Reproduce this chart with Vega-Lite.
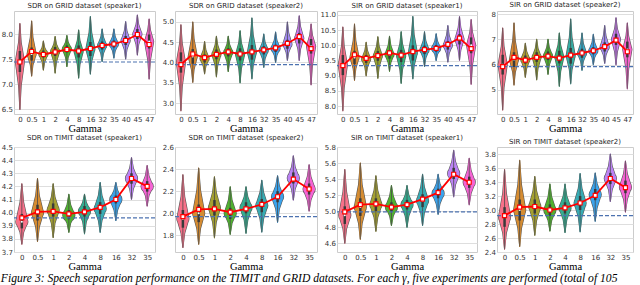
{
"$schema": "https://vega.github.io/schema/vega-lite/v6.json",
"background": "white",
"padding": 0,
"autosize": {"type": "pad"},
"title": {"text": "Figure 3: Speech separation performance on the TIMIT and GRID datasets. For each γ, five experiments are performed (total of 105", "orient": "bottom", "anchor": "start", "font": "Liberation Serif", "fontSize": 11.6, "fontStyle": "italic", "fontWeight": "normal", "color": "#000000", "offset": 1},
"columns": 4,
"spacing": {"row": 33, "column": 20},
"bounds": "flush",
"align": "each",
"resolve": {"scale": {"x": "independent", "y": "independent", "color": "independent", "size": "independent"}},
"datasets": {"d": [
{"p":1,"g":0,"min":6.49,"s1":6.97,"pk":7.45,"s2":7.83,"max":8.21,"q1":7.24,"q3":7.66,"mean":7.44},
{"p":1,"g":0.5,"min":7.16,"s1":7.38,"pk":7.6,"s2":7.93,"max":8.26,"q1":7.47,"q3":7.73,"mean":7.65},
{"p":1,"g":1,"min":7.28,"s1":7.44,"pk":7.6,"s2":7.73,"max":7.86,"q1":7.53,"q3":7.67,"mean":7.59},
{"p":1,"g":2,"min":7.22,"s1":7.44,"pk":7.65,"s2":7.8,"max":7.95,"q1":7.56,"q3":7.74,"mean":7.64},
{"p":1,"g":4,"min":7.35,"s1":7.53,"pk":7.7,"s2":7.84,"max":7.97,"q1":7.63,"q3":7.77,"mean":7.69},
{"p":1,"g":8,"min":7.12,"s1":7.39,"pk":7.65,"s2":7.87,"max":8.08,"q1":7.53,"q3":7.77,"mean":7.66},
{"p":1,"g":16,"min":7.2,"s1":7.45,"pk":7.7,"s2":8.03,"max":8.35,"q1":7.56,"q3":7.84,"mean":7.71},
{"p":1,"g":32,"min":7.45,"s1":7.61,"pk":7.77,"s2":7.94,"max":8.1,"q1":7.69,"q3":7.85,"mean":7.77},
{"p":1,"g":35,"min":7.52,"s1":7.66,"pk":7.8,"s2":7.95,"max":8.1,"q1":7.73,"q3":7.87,"mean":7.8},
{"p":1,"g":40,"min":7.5,"s1":7.69,"pk":7.87,"s2":8.06,"max":8.25,"q1":7.78,"q3":7.96,"mean":7.87},
{"p":1,"g":45,"min":7.58,"s1":7.79,"pk":8.0,"s2":8.19,"max":8.38,"q1":7.9,"q3":8.1,"mean":7.99},
{"p":1,"g":47,"min":7.1,"s1":7.48,"pk":7.85,"s2":8.08,"max":8.3,"q1":7.71,"q3":7.99,"mean":7.79},
{"p":2,"g":0,"min":2.81,"s1":3.41,"pk":4.0,"s2":4.47,"max":4.93,"q1":3.75,"q3":4.25,"mean":3.95},
{"p":2,"g":0.5,"min":3.51,"s1":3.83,"pk":4.15,"s2":4.58,"max":5.0,"q1":3.97,"q3":4.33,"mean":4.21},
{"p":2,"g":1,"min":3.72,"s1":3.91,"pk":4.1,"s2":4.31,"max":4.52,"q1":4.0,"q3":4.2,"mean":4.12},
{"p":2,"g":2,"min":3.65,"s1":3.93,"pk":4.2,"s2":4.43,"max":4.65,"q1":4.08,"q3":4.32,"mean":4.2},
{"p":2,"g":4,"min":3.78,"s1":4.02,"pk":4.25,"s2":4.45,"max":4.65,"q1":4.15,"q3":4.35,"mean":4.26},
{"p":2,"g":8,"min":3.5,"s1":3.85,"pk":4.2,"s2":4.49,"max":4.78,"q1":4.05,"q3":4.35,"mean":4.21},
{"p":2,"g":16,"min":3.6,"s1":3.93,"pk":4.25,"s2":4.68,"max":5.1,"q1":4.07,"q3":4.43,"mean":4.26},
{"p":2,"g":32,"min":3.88,"s1":4.09,"pk":4.3,"s2":4.5,"max":4.7,"q1":4.2,"q3":4.4,"mean":4.31},
{"p":2,"g":35,"min":4.0,"s1":4.18,"pk":4.35,"s2":4.55,"max":4.75,"q1":4.26,"q3":4.44,"mean":4.36},
{"p":2,"g":40,"min":4.05,"s1":4.25,"pk":4.45,"s2":4.73,"max":5.0,"q1":4.34,"q3":4.56,"mean":4.47},
{"p":2,"g":45,"min":4.05,"s1":4.33,"pk":4.6,"s2":4.88,"max":5.15,"q1":4.47,"q3":4.73,"mean":4.64},
{"p":2,"g":47,"min":3.45,"s1":3.93,"pk":4.4,"s2":4.68,"max":4.95,"q1":4.22,"q3":4.58,"mean":4.34},
{"p":3,"g":0,"min":7.85,"s1":8.6,"pk":9.35,"s2":9.98,"max":10.6,"q1":9.02,"q3":9.68,"mean":9.33},
{"p":3,"g":0.5,"min":8.85,"s1":9.23,"pk":9.6,"s2":10.15,"max":10.7,"q1":9.38,"q3":9.82,"mean":9.69},
{"p":3,"g":1,"min":9.0,"s1":9.28,"pk":9.55,"s2":9.83,"max":10.1,"q1":9.42,"q3":9.68,"mean":9.57},
{"p":3,"g":2,"min":8.92,"s1":9.29,"pk":9.65,"s2":9.97,"max":10.28,"q1":9.49,"q3":9.81,"mean":9.66},
{"p":3,"g":4,"min":9.15,"s1":9.43,"pk":9.7,"s2":10.0,"max":10.3,"q1":9.56,"q3":9.84,"mean":9.75},
{"p":3,"g":8,"min":8.75,"s1":9.2,"pk":9.65,"s2":10.05,"max":10.45,"q1":9.45,"q3":9.85,"mean":9.68},
{"p":3,"g":16,"min":8.9,"s1":9.33,"pk":9.75,"s2":10.35,"max":10.95,"q1":9.5,"q3":10.0,"mean":9.79},
{"p":3,"g":32,"min":9.3,"s1":9.58,"pk":9.85,"s2":10.15,"max":10.45,"q1":9.71,"q3":9.99,"mean":9.86},
{"p":3,"g":35,"min":9.5,"s1":9.7,"pk":9.9,"s2":10.14,"max":10.38,"q1":9.79,"q3":10.01,"mean":9.9},
{"p":3,"g":40,"min":9.45,"s1":9.73,"pk":10.0,"s2":10.33,"max":10.65,"q1":9.86,"q3":10.14,"mean":10.03},
{"p":3,"g":45,"min":9.5,"s1":9.85,"pk":10.2,"s2":10.58,"max":10.95,"q1":10.03,"q3":10.37,"mean":10.24},
{"p":3,"g":47,"min":8.72,"s1":9.36,"pk":10.0,"s2":10.43,"max":10.85,"q1":9.74,"q3":10.26,"mean":9.89},
{"p":4,"g":0,"min":4.21,"s1":5.1,"pk":6.0,"s2":6.73,"max":7.45,"q1":5.61,"q3":6.39,"mean":5.92},
{"p":4,"g":0.5,"min":5.2,"s1":5.7,"pk":6.2,"s2":6.93,"max":7.65,"q1":5.91,"q3":6.49,"mean":6.29},
{"p":4,"g":1,"min":5.5,"s1":5.85,"pk":6.2,"s2":6.53,"max":6.85,"q1":6.04,"q3":6.36,"mean":6.18},
{"p":4,"g":2,"min":5.4,"s1":5.85,"pk":6.3,"s2":6.65,"max":7.0,"q1":6.11,"q3":6.49,"mean":6.29},
{"p":4,"g":4,"min":5.62,"s1":5.99,"pk":6.35,"s2":6.68,"max":7.0,"q1":6.18,"q3":6.52,"mean":6.34},
{"p":4,"g":8,"min":5.15,"s1":5.73,"pk":6.3,"s2":6.78,"max":7.25,"q1":6.05,"q3":6.55,"mean":6.26},
{"p":4,"g":16,"min":5.25,"s1":5.8,"pk":6.35,"s2":7.08,"max":7.8,"q1":6.04,"q3":6.66,"mean":6.38},
{"p":4,"g":32,"min":5.78,"s1":6.12,"pk":6.45,"s2":6.85,"max":7.25,"q1":6.27,"q3":6.63,"mean":6.46},
{"p":4,"g":35,"min":6.0,"s1":6.28,"pk":6.55,"s2":6.88,"max":7.2,"q1":6.41,"q3":6.69,"mean":6.55},
{"p":4,"g":40,"min":6.05,"s1":6.38,"pk":6.7,"s2":7.13,"max":7.55,"q1":6.52,"q3":6.88,"mean":6.71},
{"p":4,"g":45,"min":6.0,"s1":6.5,"pk":7.0,"s2":7.43,"max":7.85,"q1":6.78,"q3":7.22,"mean":6.97},
{"p":4,"g":47,"min":5.05,"s1":5.83,"pk":6.6,"s2":7.13,"max":7.65,"q1":6.29,"q3":6.91,"mean":6.51},
{"p":5,"g":0,"min":3.76,"s1":3.85,"pk":3.93,"s2":4.08,"max":4.22,"q1":3.88,"q3":3.99,"mean":3.96},
{"p":5,"g":0.5,"min":3.78,"s1":3.89,"pk":4.0,"s2":4.13,"max":4.26,"q1":3.94,"q3":4.06,"mean":4.005},
{"p":5,"g":1,"min":3.81,"s1":3.92,"pk":4.02,"s2":4.12,"max":4.22,"q1":3.97,"q3":4.07,"mean":4.01},
{"p":5,"g":2,"min":3.85,"s1":3.92,"pk":3.98,"s2":4.06,"max":4.14,"q1":3.95,"q3":4.02,"mean":3.99},
{"p":5,"g":4,"min":3.84,"s1":3.93,"pk":4.01,"s2":4.08,"max":4.14,"q1":3.97,"q3":4.05,"mean":4.005},
{"p":5,"g":8,"min":3.85,"s1":3.94,"pk":4.03,"s2":4.13,"max":4.23,"q1":3.99,"q3":4.08,"mean":4.04},
{"p":5,"g":16,"min":3.94,"s1":4.02,"pk":4.1,"s2":4.17,"max":4.23,"q1":4.07,"q3":4.13,"mean":4.1},
{"p":5,"g":32,"min":4.1,"s1":4.18,"pk":4.26,"s2":4.34,"max":4.42,"q1":4.22,"q3":4.3,"mean":4.26},
{"p":5,"g":35,"min":4.05,"s1":4.13,"pk":4.2,"s2":4.28,"max":4.36,"q1":4.16,"q3":4.24,"mean":4.2},
{"p":6,"g":0,"min":1.69,"s1":1.82,"pk":1.95,"s2":2.15,"max":2.35,"q1":1.87,"q3":2.03,"mean":1.97},
{"p":6,"g":0.5,"min":1.72,"s1":1.86,"pk":2.0,"s2":2.21,"max":2.41,"q1":1.92,"q3":2.08,"mean":2.035},
{"p":6,"g":1,"min":1.78,"s1":1.92,"pk":2.05,"s2":2.19,"max":2.33,"q1":1.98,"q3":2.12,"mean":2.04},
{"p":6,"g":2,"min":1.81,"s1":1.91,"pk":2.0,"s2":2.12,"max":2.24,"q1":1.95,"q3":2.05,"mean":2.01},
{"p":6,"g":4,"min":1.82,"s1":1.94,"pk":2.05,"s2":2.15,"max":2.24,"q1":2.0,"q3":2.1,"mean":2.04},
{"p":6,"g":8,"min":1.83,"s1":1.95,"pk":2.07,"s2":2.19,"max":2.3,"q1":2.01,"q3":2.13,"mean":2.08},
{"p":6,"g":16,"min":1.92,"s1":2.04,"pk":2.15,"s2":2.25,"max":2.34,"q1":2.1,"q3":2.2,"mean":2.15},
{"p":6,"g":32,"min":2.12,"s1":2.22,"pk":2.32,"s2":2.42,"max":2.52,"q1":2.27,"q3":2.37,"mean":2.31},
{"p":6,"g":35,"min":2.02,"s1":2.12,"pk":2.22,"s2":2.33,"max":2.44,"q1":2.17,"q3":2.27,"mean":2.22},
{"p":7,"g":0,"min":4.6,"s1":4.78,"pk":4.95,"s2":5.24,"max":5.52,"q1":4.84,"q3":5.06,"mean":4.99},
{"p":7,"g":0.5,"min":4.65,"s1":4.85,"pk":5.05,"s2":5.33,"max":5.6,"q1":4.94,"q3":5.16,"mean":5.08},
{"p":7,"g":1,"min":4.75,"s1":4.92,"pk":5.08,"s2":5.26,"max":5.44,"q1":5.0,"q3":5.16,"mean":5.09},
{"p":7,"g":2,"min":4.82,"s1":4.94,"pk":5.05,"s2":5.19,"max":5.32,"q1":4.99,"q3":5.11,"mean":5.05},
{"p":7,"g":4,"min":4.8,"s1":4.94,"pk":5.08,"s2":5.2,"max":5.32,"q1":5.02,"q3":5.14,"mean":5.08},
{"p":7,"g":8,"min":4.82,"s1":4.98,"pk":5.13,"s2":5.3,"max":5.46,"q1":5.05,"q3":5.21,"mean":5.15},
{"p":7,"g":16,"min":4.96,"s1":5.09,"pk":5.22,"s2":5.34,"max":5.46,"q1":5.16,"q3":5.28,"mean":5.23},
{"p":7,"g":32,"min":5.18,"s1":5.33,"pk":5.47,"s2":5.62,"max":5.76,"q1":5.4,"q3":5.54,"mean":5.46},
{"p":7,"g":35,"min":5.08,"s1":5.22,"pk":5.36,"s2":5.51,"max":5.66,"q1":5.29,"q3":5.43,"mean":5.36},
{"p":8,"g":0,"min":2.44,"s1":2.67,"pk":2.9,"s2":3.24,"max":3.58,"q1":2.76,"q3":3.04,"mean":2.92},
{"p":8,"g":0.5,"min":2.48,"s1":2.74,"pk":3.0,"s2":3.36,"max":3.71,"q1":2.85,"q3":3.15,"mean":3.04},
{"p":8,"g":1,"min":2.64,"s1":2.85,"pk":3.05,"s2":3.27,"max":3.48,"q1":2.95,"q3":3.15,"mean":3.05},
{"p":8,"g":2,"min":2.7,"s1":2.85,"pk":3.0,"s2":3.19,"max":3.37,"q1":2.92,"q3":3.08,"mean":3.0},
{"p":8,"g":4,"min":2.68,"s1":2.86,"pk":3.03,"s2":3.2,"max":3.37,"q1":2.95,"q3":3.11,"mean":3.03},
{"p":8,"g":8,"min":2.69,"s1":2.9,"pk":3.1,"s2":3.31,"max":3.52,"q1":3.0,"q3":3.2,"mean":3.1},
{"p":8,"g":16,"min":2.84,"s1":3.03,"pk":3.22,"s2":3.38,"max":3.53,"q1":3.14,"q3":3.3,"mean":3.21},
{"p":8,"g":32,"min":3.12,"s1":3.29,"pk":3.45,"s2":3.63,"max":3.8,"q1":3.37,"q3":3.53,"mean":3.45},
{"p":8,"g":35,"min":2.97,"s1":3.15,"pk":3.33,"s2":3.52,"max":3.7,"q1":3.24,"q3":3.42,"mean":3.32}
]},
"concat": [
{"title": "SDR on GRID dataset (speaker1)", "width": 141, "height": 103, "data": {"name": "d"}, "transform": [{"filter": "datum.p == 1"}], "resolve": {"scale": {"size": "independent"}},
 "layer": [
  {"transform": [{"fold": ["min","s1","pk","s2","max"], "as": ["k","v"]}], "mark": {"type": "trail", "opacity": 1, "color": "#555555"},
   "encoding": {
    "x": {"field": "g", "type": "ordinal", "scale": {"type": "point", "padding": 0.5, "domain": [0,0.5,1,2,4,8,16,32,35,40,45,47]}, "axis": {"title": "Gamma"}},
    "y": {"field": "v", "type": "quantitative", "scale": {"domain": [6.4, 8.46], "nice": false, "zero": false}, "axis": {"title": null, "values": [6.5,7,7.5,8], "format": ".1f"}},
    "size": {"field": "k", "type": "ordinal", "scale": {"type": "ordinal", "domain": ["min","s1","pk","s2","max"], "range": [1,3.7,10.2,3.7,1]}, "legend": null},
    "detail": {"field": "g"},
    "order": {"field": "v", "type": "quantitative"}}},
  {"transform": [{"fold": ["min","s1","pk","s2","max"], "as": ["k","v"]}], "mark": {"type": "trail", "opacity": 1},
   "encoding": {
    "x": {"field": "g", "type": "ordinal", "axis": {"title": "Gamma"}},
    "y": {"field": "v", "type": "quantitative", "axis": {"title": null, "values": [6.5,7,7.5,8], "format": ".1f"}},
    "size": {"field": "k", "type": "ordinal", "scale": {"type": "ordinal", "domain": ["min","s1","pk","s2","max"], "range": [0,2.5,9,2.5,0]}, "legend": null},
    "color": {"field": "g", "type": "nominal", "scale": {"domain": [0,0.5,1,2,4,8,16,32,35,40,45,47], "range": ["#f77189","#dc8932","#ae9d31","#97a431","#50b131","#33b07a","#36ada4","#38a9c5","#3ba3ec","#a48cf4","#cc7af4","#f565cc"]}, "legend": null},
    "order": {"field": "v", "type": "quantitative"}}},
  {"mark": {"type": "rule", "color": "#4a4a4a", "strokeWidth": 0.8}, "encoding": {"x": {"field": "g", "type": "ordinal", "axis": {"title": "Gamma"}}, "y": {"field": "min", "type": "quantitative", "axis": {"title": null, "values": [6.5,7,7.5,8], "format": ".1f"}}, "y2": {"field": "max"}}},
  {"mark": {"type": "rule", "color": "#3a3a3a", "strokeWidth": 2.5}, "encoding": {"x": {"field": "g", "type": "ordinal", "axis": {"title": "Gamma"}}, "y": {"field": "q1", "type": "quantitative", "axis": {"title": null, "values": [6.5,7,7.5,8], "format": ".1f"}}, "y2": {"field": "q3"}}},
  {"mark": {"type": "circle", "color": "white", "size": 4, "opacity": 1}, "encoding": {"x": {"field": "g", "type": "ordinal", "axis": {"title": "Gamma"}}, "y": {"field": "pk", "type": "quantitative", "axis": {"title": null, "values": [6.5,7,7.5,8], "format": ".1f"}}}},
  {"transform": [{"filter": "datum.g == 0"}], "mark": {"type": "rule", "color": "#4c72b0", "strokeDash": [4,2], "strokeWidth": 1.2}, "encoding": {"y": {"field": "mean", "type": "quantitative", "axis": {"title": null, "values": [6.5,7,7.5,8], "format": ".1f"}}}},
  {"mark": {"type": "line", "color": "#ff0000", "strokeWidth": 1.8}, "encoding": {"x": {"field": "g", "type": "ordinal", "axis": {"title": "Gamma"}}, "y": {"field": "mean", "type": "quantitative", "axis": {"title": null, "values": [6.5,7,7.5,8], "format": ".1f"}}}},
  {"mark": {"type": "square", "size": 16, "fill": "white", "stroke": "#ff0000", "strokeWidth": 1.2, "opacity": 1}, "encoding": {"x": {"field": "g", "type": "ordinal", "axis": {"title": "Gamma"}}, "y": {"field": "mean", "type": "quantitative", "axis": {"title": null, "values": [6.5,7,7.5,8], "format": ".1f"}}}}
 ]},
{"title": "SDR on GRID dataset (speaker2)", "width": 142, "height": 103, "data": {"name": "d"}, "transform": [{"filter": "datum.p == 2"}], "resolve": {"scale": {"size": "independent"}},
 "layer": [
  {"transform": [{"fold": ["min","s1","pk","s2","max"], "as": ["k","v"]}], "mark": {"type": "trail", "opacity": 1, "color": "#555555"},
   "encoding": {
    "x": {"field": "g", "type": "ordinal", "scale": {"type": "point", "padding": 0.5, "domain": [0,0.5,1,2,4,8,16,32,35,40,45,47]}, "axis": {"title": "Gamma"}},
    "y": {"field": "v", "type": "quantitative", "scale": {"domain": [2.73, 5.27], "nice": false, "zero": false}, "axis": {"title": null, "values": [3,3.5,4,4.5,5], "format": ".1f"}},
    "size": {"field": "k", "type": "ordinal", "scale": {"type": "ordinal", "domain": ["min","s1","pk","s2","max"], "range": [1,3.7,10.2,3.7,1]}, "legend": null},
    "detail": {"field": "g"},
    "order": {"field": "v", "type": "quantitative"}}},
  {"transform": [{"fold": ["min","s1","pk","s2","max"], "as": ["k","v"]}], "mark": {"type": "trail", "opacity": 1},
   "encoding": {
    "x": {"field": "g", "type": "ordinal", "axis": {"title": "Gamma"}},
    "y": {"field": "v", "type": "quantitative", "axis": {"title": null, "values": [3,3.5,4,4.5,5], "format": ".1f"}},
    "size": {"field": "k", "type": "ordinal", "scale": {"type": "ordinal", "domain": ["min","s1","pk","s2","max"], "range": [0,2.5,9,2.5,0]}, "legend": null},
    "color": {"field": "g", "type": "nominal", "scale": {"domain": [0,0.5,1,2,4,8,16,32,35,40,45,47], "range": ["#f77189","#dc8932","#ae9d31","#97a431","#50b131","#33b07a","#36ada4","#38a9c5","#3ba3ec","#a48cf4","#cc7af4","#f565cc"]}, "legend": null},
    "order": {"field": "v", "type": "quantitative"}}},
  {"mark": {"type": "rule", "color": "#4a4a4a", "strokeWidth": 0.8}, "encoding": {"x": {"field": "g", "type": "ordinal", "axis": {"title": "Gamma"}}, "y": {"field": "min", "type": "quantitative", "axis": {"title": null, "values": [3,3.5,4,4.5,5], "format": ".1f"}}, "y2": {"field": "max"}}},
  {"mark": {"type": "rule", "color": "#3a3a3a", "strokeWidth": 2.5}, "encoding": {"x": {"field": "g", "type": "ordinal", "axis": {"title": "Gamma"}}, "y": {"field": "q1", "type": "quantitative", "axis": {"title": null, "values": [3,3.5,4,4.5,5], "format": ".1f"}}, "y2": {"field": "q3"}}},
  {"mark": {"type": "circle", "color": "white", "size": 4, "opacity": 1}, "encoding": {"x": {"field": "g", "type": "ordinal", "axis": {"title": "Gamma"}}, "y": {"field": "pk", "type": "quantitative", "axis": {"title": null, "values": [3,3.5,4,4.5,5], "format": ".1f"}}}},
  {"transform": [{"filter": "datum.g == 0"}], "mark": {"type": "rule", "color": "#4c72b0", "strokeDash": [4,2], "strokeWidth": 1.2}, "encoding": {"y": {"field": "mean", "type": "quantitative", "axis": {"title": null, "values": [3,3.5,4,4.5,5], "format": ".1f"}}}},
  {"mark": {"type": "line", "color": "#ff0000", "strokeWidth": 1.8}, "encoding": {"x": {"field": "g", "type": "ordinal", "axis": {"title": "Gamma"}}, "y": {"field": "mean", "type": "quantitative", "axis": {"title": null, "values": [3,3.5,4,4.5,5], "format": ".1f"}}}},
  {"mark": {"type": "square", "size": 16, "fill": "white", "stroke": "#ff0000", "strokeWidth": 1.2, "opacity": 1}, "encoding": {"x": {"field": "g", "type": "ordinal", "axis": {"title": "Gamma"}}, "y": {"field": "mean", "type": "quantitative", "axis": {"title": null, "values": [3,3.5,4,4.5,5], "format": ".1f"}}}}
 ]},
{"title": "SIR on GRID dataset (speaker1)", "width": 140, "height": 103, "data": {"name": "d"}, "transform": [{"filter": "datum.p == 3"}], "resolve": {"scale": {"size": "independent"}},
 "layer": [
  {"transform": [{"fold": ["min","s1","pk","s2","max"], "as": ["k","v"]}], "mark": {"type": "trail", "opacity": 1, "color": "#555555"},
   "encoding": {
    "x": {"field": "g", "type": "ordinal", "scale": {"type": "point", "padding": 0.5, "domain": [0,0.5,1,2,4,8,16,32,35,40,45,47]}, "axis": {"title": "Gamma"}},
    "y": {"field": "v", "type": "quantitative", "scale": {"domain": [7.74, 11.13], "nice": false, "zero": false}, "axis": {"title": null, "values": [8,8.5,9,9.5,10,10.5,11], "format": ".1f"}},
    "size": {"field": "k", "type": "ordinal", "scale": {"type": "ordinal", "domain": ["min","s1","pk","s2","max"], "range": [1,3.7,10.2,3.7,1]}, "legend": null},
    "detail": {"field": "g"},
    "order": {"field": "v", "type": "quantitative"}}},
  {"transform": [{"fold": ["min","s1","pk","s2","max"], "as": ["k","v"]}], "mark": {"type": "trail", "opacity": 1},
   "encoding": {
    "x": {"field": "g", "type": "ordinal", "axis": {"title": "Gamma"}},
    "y": {"field": "v", "type": "quantitative", "axis": {"title": null, "values": [8,8.5,9,9.5,10,10.5,11], "format": ".1f"}},
    "size": {"field": "k", "type": "ordinal", "scale": {"type": "ordinal", "domain": ["min","s1","pk","s2","max"], "range": [0,2.5,9,2.5,0]}, "legend": null},
    "color": {"field": "g", "type": "nominal", "scale": {"domain": [0,0.5,1,2,4,8,16,32,35,40,45,47], "range": ["#f77189","#dc8932","#ae9d31","#97a431","#50b131","#33b07a","#36ada4","#38a9c5","#3ba3ec","#a48cf4","#cc7af4","#f565cc"]}, "legend": null},
    "order": {"field": "v", "type": "quantitative"}}},
  {"mark": {"type": "rule", "color": "#4a4a4a", "strokeWidth": 0.8}, "encoding": {"x": {"field": "g", "type": "ordinal", "axis": {"title": "Gamma"}}, "y": {"field": "min", "type": "quantitative", "axis": {"title": null, "values": [8,8.5,9,9.5,10,10.5,11], "format": ".1f"}}, "y2": {"field": "max"}}},
  {"mark": {"type": "rule", "color": "#3a3a3a", "strokeWidth": 2.5}, "encoding": {"x": {"field": "g", "type": "ordinal", "axis": {"title": "Gamma"}}, "y": {"field": "q1", "type": "quantitative", "axis": {"title": null, "values": [8,8.5,9,9.5,10,10.5,11], "format": ".1f"}}, "y2": {"field": "q3"}}},
  {"mark": {"type": "circle", "color": "white", "size": 4, "opacity": 1}, "encoding": {"x": {"field": "g", "type": "ordinal", "axis": {"title": "Gamma"}}, "y": {"field": "pk", "type": "quantitative", "axis": {"title": null, "values": [8,8.5,9,9.5,10,10.5,11], "format": ".1f"}}}},
  {"transform": [{"filter": "datum.g == 0"}], "mark": {"type": "rule", "color": "#4c72b0", "strokeDash": [4,2], "strokeWidth": 1.2}, "encoding": {"y": {"field": "mean", "type": "quantitative", "axis": {"title": null, "values": [8,8.5,9,9.5,10,10.5,11], "format": ".1f"}}}},
  {"mark": {"type": "line", "color": "#ff0000", "strokeWidth": 1.8}, "encoding": {"x": {"field": "g", "type": "ordinal", "axis": {"title": "Gamma"}}, "y": {"field": "mean", "type": "quantitative", "axis": {"title": null, "values": [8,8.5,9,9.5,10,10.5,11], "format": ".1f"}}}},
  {"mark": {"type": "square", "size": 16, "fill": "white", "stroke": "#ff0000", "strokeWidth": 1.2, "opacity": 1}, "encoding": {"x": {"field": "g", "type": "ordinal", "axis": {"title": "Gamma"}}, "y": {"field": "mean", "type": "quantitative", "axis": {"title": null, "values": [8,8.5,9,9.5,10,10.5,11], "format": ".1f"}}}}
 ]},
{"title": "SIR on GRID dataset (speaker2)", "width": 136, "height": 103, "data": {"name": "d"}, "transform": [{"filter": "datum.p == 4"}], "resolve": {"scale": {"size": "independent"}},
 "layer": [
  {"transform": [{"fold": ["min","s1","pk","s2","max"], "as": ["k","v"]}], "mark": {"type": "trail", "opacity": 1, "color": "#555555"},
   "encoding": {
    "x": {"field": "g", "type": "ordinal", "scale": {"type": "point", "padding": 0.5, "domain": [0,0.5,1,2,4,8,16,32,35,40,45,47]}, "axis": {"title": "Gamma"}},
    "y": {"field": "v", "type": "quantitative", "scale": {"domain": [4.05, 8.12], "nice": false, "zero": false}, "axis": {"title": null, "values": [5,6,7,8], "format": "d"}},
    "size": {"field": "k", "type": "ordinal", "scale": {"type": "ordinal", "domain": ["min","s1","pk","s2","max"], "range": [1,3.7,10.2,3.7,1]}, "legend": null},
    "detail": {"field": "g"},
    "order": {"field": "v", "type": "quantitative"}}},
  {"transform": [{"fold": ["min","s1","pk","s2","max"], "as": ["k","v"]}], "mark": {"type": "trail", "opacity": 1},
   "encoding": {
    "x": {"field": "g", "type": "ordinal", "axis": {"title": "Gamma"}},
    "y": {"field": "v", "type": "quantitative", "axis": {"title": null, "values": [5,6,7,8], "format": "d"}},
    "size": {"field": "k", "type": "ordinal", "scale": {"type": "ordinal", "domain": ["min","s1","pk","s2","max"], "range": [0,2.5,9,2.5,0]}, "legend": null},
    "color": {"field": "g", "type": "nominal", "scale": {"domain": [0,0.5,1,2,4,8,16,32,35,40,45,47], "range": ["#f77189","#dc8932","#ae9d31","#97a431","#50b131","#33b07a","#36ada4","#38a9c5","#3ba3ec","#a48cf4","#cc7af4","#f565cc"]}, "legend": null},
    "order": {"field": "v", "type": "quantitative"}}},
  {"mark": {"type": "rule", "color": "#4a4a4a", "strokeWidth": 0.8}, "encoding": {"x": {"field": "g", "type": "ordinal", "axis": {"title": "Gamma"}}, "y": {"field": "min", "type": "quantitative", "axis": {"title": null, "values": [5,6,7,8], "format": "d"}}, "y2": {"field": "max"}}},
  {"mark": {"type": "rule", "color": "#3a3a3a", "strokeWidth": 2.5}, "encoding": {"x": {"field": "g", "type": "ordinal", "axis": {"title": "Gamma"}}, "y": {"field": "q1", "type": "quantitative", "axis": {"title": null, "values": [5,6,7,8], "format": "d"}}, "y2": {"field": "q3"}}},
  {"mark": {"type": "circle", "color": "white", "size": 4, "opacity": 1}, "encoding": {"x": {"field": "g", "type": "ordinal", "axis": {"title": "Gamma"}}, "y": {"field": "pk", "type": "quantitative", "axis": {"title": null, "values": [5,6,7,8], "format": "d"}}}},
  {"transform": [{"filter": "datum.g == 0"}], "mark": {"type": "rule", "color": "#4c72b0", "strokeDash": [4,2], "strokeWidth": 1.2}, "encoding": {"y": {"field": "mean", "type": "quantitative", "axis": {"title": null, "values": [5,6,7,8], "format": "d"}}}},
  {"mark": {"type": "line", "color": "#ff0000", "strokeWidth": 1.8}, "encoding": {"x": {"field": "g", "type": "ordinal", "axis": {"title": "Gamma"}}, "y": {"field": "mean", "type": "quantitative", "axis": {"title": null, "values": [5,6,7,8], "format": "d"}}}},
  {"mark": {"type": "square", "size": 16, "fill": "white", "stroke": "#ff0000", "strokeWidth": 1.2, "opacity": 1}, "encoding": {"x": {"field": "g", "type": "ordinal", "axis": {"title": "Gamma"}}, "y": {"field": "mean", "type": "quantitative", "axis": {"title": null, "values": [5,6,7,8], "format": "d"}}}}
 ]},
{"title": "SDR on TIMIT dataset (speaker1)", "width": 141, "height": 105, "data": {"name": "d"}, "transform": [{"filter": "datum.p == 5"}], "resolve": {"scale": {"size": "independent"}},
 "layer": [
  {"transform": [{"fold": ["min","s1","pk","s2","max"], "as": ["k","v"]}], "mark": {"type": "trail", "opacity": 1, "color": "#555555"},
   "encoding": {
    "x": {"field": "g", "type": "ordinal", "scale": {"type": "point", "padding": 0.5, "domain": [0,0.5,1,2,4,8,16,32,35]}, "axis": {"title": "Gamma"}},
    "y": {"field": "v", "type": "quantitative", "scale": {"domain": [3.7, 4.5], "nice": false, "zero": false}, "axis": {"title": null, "values": [3.7,3.8,3.9,4,4.1,4.2,4.3,4.4,4.5], "format": ".1f"}},
    "size": {"field": "k", "type": "ordinal", "scale": {"type": "ordinal", "domain": ["min","s1","pk","s2","max"], "range": [1,4.7,13.2,4.7,1]}, "legend": null},
    "detail": {"field": "g"},
    "order": {"field": "v", "type": "quantitative"}}},
  {"transform": [{"fold": ["min","s1","pk","s2","max"], "as": ["k","v"]}], "mark": {"type": "trail", "opacity": 1},
   "encoding": {
    "x": {"field": "g", "type": "ordinal", "axis": {"title": "Gamma"}},
    "y": {"field": "v", "type": "quantitative", "axis": {"title": null, "values": [3.7,3.8,3.9,4,4.1,4.2,4.3,4.4,4.5], "format": ".1f"}},
    "size": {"field": "k", "type": "ordinal", "scale": {"type": "ordinal", "domain": ["min","s1","pk","s2","max"], "range": [0,3.5,12,3.5,0]}, "legend": null},
    "color": {"field": "g", "type": "nominal", "scale": {"domain": [0,0.5,1,2,4,8,16,32,35], "range": ["#f77189","#d58c32","#a4a031","#50b131","#34ae91","#37abb4","#3ba3ec","#bb83f4","#f564d4"]}, "legend": null},
    "order": {"field": "v", "type": "quantitative"}}},
  {"mark": {"type": "rule", "color": "#4a4a4a", "strokeWidth": 0.8}, "encoding": {"x": {"field": "g", "type": "ordinal", "axis": {"title": "Gamma"}}, "y": {"field": "min", "type": "quantitative", "axis": {"title": null, "values": [3.7,3.8,3.9,4,4.1,4.2,4.3,4.4,4.5], "format": ".1f"}}, "y2": {"field": "max"}}},
  {"mark": {"type": "rule", "color": "#3a3a3a", "strokeWidth": 2.5}, "encoding": {"x": {"field": "g", "type": "ordinal", "axis": {"title": "Gamma"}}, "y": {"field": "q1", "type": "quantitative", "axis": {"title": null, "values": [3.7,3.8,3.9,4,4.1,4.2,4.3,4.4,4.5], "format": ".1f"}}, "y2": {"field": "q3"}}},
  {"mark": {"type": "circle", "color": "white", "size": 4, "opacity": 1}, "encoding": {"x": {"field": "g", "type": "ordinal", "axis": {"title": "Gamma"}}, "y": {"field": "pk", "type": "quantitative", "axis": {"title": null, "values": [3.7,3.8,3.9,4,4.1,4.2,4.3,4.4,4.5], "format": ".1f"}}}},
  {"transform": [{"filter": "datum.g == 0"}], "mark": {"type": "rule", "color": "#4c72b0", "strokeDash": [4,2], "strokeWidth": 1.2}, "encoding": {"y": {"field": "mean", "type": "quantitative", "axis": {"title": null, "values": [3.7,3.8,3.9,4,4.1,4.2,4.3,4.4,4.5], "format": ".1f"}}}},
  {"mark": {"type": "line", "color": "#ff0000", "strokeWidth": 1.8}, "encoding": {"x": {"field": "g", "type": "ordinal", "axis": {"title": "Gamma"}}, "y": {"field": "mean", "type": "quantitative", "axis": {"title": null, "values": [3.7,3.8,3.9,4,4.1,4.2,4.3,4.4,4.5], "format": ".1f"}}}},
  {"mark": {"type": "square", "size": 16, "fill": "white", "stroke": "#ff0000", "strokeWidth": 1.2, "opacity": 1}, "encoding": {"x": {"field": "g", "type": "ordinal", "axis": {"title": "Gamma"}}, "y": {"field": "mean", "type": "quantitative", "axis": {"title": null, "values": [3.7,3.8,3.9,4,4.1,4.2,4.3,4.4,4.5], "format": ".1f"}}}}
 ]},
{"title": "SDR on TIMIT dataset (speaker2)", "width": 142, "height": 105, "data": {"name": "d"}, "transform": [{"filter": "datum.p == 6"}], "resolve": {"scale": {"size": "independent"}},
 "layer": [
  {"transform": [{"fold": ["min","s1","pk","s2","max"], "as": ["k","v"]}], "mark": {"type": "trail", "opacity": 1, "color": "#555555"},
   "encoding": {
    "x": {"field": "g", "type": "ordinal", "scale": {"type": "point", "padding": 0.5, "domain": [0,0.5,1,2,4,8,16,32,35]}, "axis": {"title": "Gamma"}},
    "y": {"field": "v", "type": "quantitative", "scale": {"domain": [1.65, 2.6], "nice": false, "zero": false}, "axis": {"title": null, "values": [1.8,2,2.2,2.4,2.6], "format": ".1f"}},
    "size": {"field": "k", "type": "ordinal", "scale": {"type": "ordinal", "domain": ["min","s1","pk","s2","max"], "range": [1,4.7,13.2,4.7,1]}, "legend": null},
    "detail": {"field": "g"},
    "order": {"field": "v", "type": "quantitative"}}},
  {"transform": [{"fold": ["min","s1","pk","s2","max"], "as": ["k","v"]}], "mark": {"type": "trail", "opacity": 1},
   "encoding": {
    "x": {"field": "g", "type": "ordinal", "axis": {"title": "Gamma"}},
    "y": {"field": "v", "type": "quantitative", "axis": {"title": null, "values": [1.8,2,2.2,2.4,2.6], "format": ".1f"}},
    "size": {"field": "k", "type": "ordinal", "scale": {"type": "ordinal", "domain": ["min","s1","pk","s2","max"], "range": [0,3.5,12,3.5,0]}, "legend": null},
    "color": {"field": "g", "type": "nominal", "scale": {"domain": [0,0.5,1,2,4,8,16,32,35], "range": ["#f77189","#d58c32","#a4a031","#50b131","#34ae91","#37abb4","#3ba3ec","#bb83f4","#f564d4"]}, "legend": null},
    "order": {"field": "v", "type": "quantitative"}}},
  {"mark": {"type": "rule", "color": "#4a4a4a", "strokeWidth": 0.8}, "encoding": {"x": {"field": "g", "type": "ordinal", "axis": {"title": "Gamma"}}, "y": {"field": "min", "type": "quantitative", "axis": {"title": null, "values": [1.8,2,2.2,2.4,2.6], "format": ".1f"}}, "y2": {"field": "max"}}},
  {"mark": {"type": "rule", "color": "#3a3a3a", "strokeWidth": 2.5}, "encoding": {"x": {"field": "g", "type": "ordinal", "axis": {"title": "Gamma"}}, "y": {"field": "q1", "type": "quantitative", "axis": {"title": null, "values": [1.8,2,2.2,2.4,2.6], "format": ".1f"}}, "y2": {"field": "q3"}}},
  {"mark": {"type": "circle", "color": "white", "size": 4, "opacity": 1}, "encoding": {"x": {"field": "g", "type": "ordinal", "axis": {"title": "Gamma"}}, "y": {"field": "pk", "type": "quantitative", "axis": {"title": null, "values": [1.8,2,2.2,2.4,2.6], "format": ".1f"}}}},
  {"transform": [{"filter": "datum.g == 0"}], "mark": {"type": "rule", "color": "#4c72b0", "strokeDash": [4,2], "strokeWidth": 1.2}, "encoding": {"y": {"field": "mean", "type": "quantitative", "axis": {"title": null, "values": [1.8,2,2.2,2.4,2.6], "format": ".1f"}}}},
  {"mark": {"type": "line", "color": "#ff0000", "strokeWidth": 1.8}, "encoding": {"x": {"field": "g", "type": "ordinal", "axis": {"title": "Gamma"}}, "y": {"field": "mean", "type": "quantitative", "axis": {"title": null, "values": [1.8,2,2.2,2.4,2.6], "format": ".1f"}}}},
  {"mark": {"type": "square", "size": 16, "fill": "white", "stroke": "#ff0000", "strokeWidth": 1.2, "opacity": 1}, "encoding": {"x": {"field": "g", "type": "ordinal", "axis": {"title": "Gamma"}}, "y": {"field": "mean", "type": "quantitative", "axis": {"title": null, "values": [1.8,2,2.2,2.4,2.6], "format": ".1f"}}}}
 ]},
{"title": "SIR on TIMIT dataset (speaker1)", "width": 140, "height": 105, "data": {"name": "d"}, "transform": [{"filter": "datum.p == 7"}], "resolve": {"scale": {"size": "independent"}},
 "layer": [
  {"transform": [{"fold": ["min","s1","pk","s2","max"], "as": ["k","v"]}], "mark": {"type": "trail", "opacity": 1, "color": "#555555"},
   "encoding": {
    "x": {"field": "g", "type": "ordinal", "scale": {"type": "point", "padding": 0.5, "domain": [0,0.5,1,2,4,8,16,32,35]}, "axis": {"title": "Gamma"}},
    "y": {"field": "v", "type": "quantitative", "scale": {"domain": [4.49, 5.8], "nice": false, "zero": false}, "axis": {"title": null, "values": [4.6,4.8,5,5.2,5.4,5.6,5.8], "format": ".1f"}},
    "size": {"field": "k", "type": "ordinal", "scale": {"type": "ordinal", "domain": ["min","s1","pk","s2","max"], "range": [1,4.7,13.2,4.7,1]}, "legend": null},
    "detail": {"field": "g"},
    "order": {"field": "v", "type": "quantitative"}}},
  {"transform": [{"fold": ["min","s1","pk","s2","max"], "as": ["k","v"]}], "mark": {"type": "trail", "opacity": 1},
   "encoding": {
    "x": {"field": "g", "type": "ordinal", "axis": {"title": "Gamma"}},
    "y": {"field": "v", "type": "quantitative", "axis": {"title": null, "values": [4.6,4.8,5,5.2,5.4,5.6,5.8], "format": ".1f"}},
    "size": {"field": "k", "type": "ordinal", "scale": {"type": "ordinal", "domain": ["min","s1","pk","s2","max"], "range": [0,3.5,12,3.5,0]}, "legend": null},
    "color": {"field": "g", "type": "nominal", "scale": {"domain": [0,0.5,1,2,4,8,16,32,35], "range": ["#f77189","#d58c32","#a4a031","#50b131","#34ae91","#37abb4","#3ba3ec","#bb83f4","#f564d4"]}, "legend": null},
    "order": {"field": "v", "type": "quantitative"}}},
  {"mark": {"type": "rule", "color": "#4a4a4a", "strokeWidth": 0.8}, "encoding": {"x": {"field": "g", "type": "ordinal", "axis": {"title": "Gamma"}}, "y": {"field": "min", "type": "quantitative", "axis": {"title": null, "values": [4.6,4.8,5,5.2,5.4,5.6,5.8], "format": ".1f"}}, "y2": {"field": "max"}}},
  {"mark": {"type": "rule", "color": "#3a3a3a", "strokeWidth": 2.5}, "encoding": {"x": {"field": "g", "type": "ordinal", "axis": {"title": "Gamma"}}, "y": {"field": "q1", "type": "quantitative", "axis": {"title": null, "values": [4.6,4.8,5,5.2,5.4,5.6,5.8], "format": ".1f"}}, "y2": {"field": "q3"}}},
  {"mark": {"type": "circle", "color": "white", "size": 4, "opacity": 1}, "encoding": {"x": {"field": "g", "type": "ordinal", "axis": {"title": "Gamma"}}, "y": {"field": "pk", "type": "quantitative", "axis": {"title": null, "values": [4.6,4.8,5,5.2,5.4,5.6,5.8], "format": ".1f"}}}},
  {"transform": [{"filter": "datum.g == 0"}], "mark": {"type": "rule", "color": "#4c72b0", "strokeDash": [4,2], "strokeWidth": 1.2}, "encoding": {"y": {"field": "mean", "type": "quantitative", "axis": {"title": null, "values": [4.6,4.8,5,5.2,5.4,5.6,5.8], "format": ".1f"}}}},
  {"mark": {"type": "line", "color": "#ff0000", "strokeWidth": 1.8}, "encoding": {"x": {"field": "g", "type": "ordinal", "axis": {"title": "Gamma"}}, "y": {"field": "mean", "type": "quantitative", "axis": {"title": null, "values": [4.6,4.8,5,5.2,5.4,5.6,5.8], "format": ".1f"}}}},
  {"mark": {"type": "square", "size": 16, "fill": "white", "stroke": "#ff0000", "strokeWidth": 1.2, "opacity": 1}, "encoding": {"x": {"field": "g", "type": "ordinal", "axis": {"title": "Gamma"}}, "y": {"field": "mean", "type": "quantitative", "axis": {"title": null, "values": [4.6,4.8,5,5.2,5.4,5.6,5.8], "format": ".1f"}}}}
 ]},
{"title": "SIR on TIMIT dataset (speaker2)", "width": 136, "height": 105, "data": {"name": "d"}, "transform": [{"filter": "datum.p == 8"}], "resolve": {"scale": {"size": "independent"}},
 "layer": [
  {"transform": [{"fold": ["min","s1","pk","s2","max"], "as": ["k","v"]}], "mark": {"type": "trail", "opacity": 1, "color": "#555555"},
   "encoding": {
    "x": {"field": "g", "type": "ordinal", "scale": {"type": "point", "padding": 0.5, "domain": [0,0.5,1,2,4,8,16,32,35]}, "axis": {"title": "Gamma"}},
    "y": {"field": "v", "type": "quantitative", "scale": {"domain": [2.4, 3.9], "nice": false, "zero": false}, "axis": {"title": null, "values": [2.4,2.6,2.8,3,3.2,3.4,3.6,3.8], "format": ".1f"}},
    "size": {"field": "k", "type": "ordinal", "scale": {"type": "ordinal", "domain": ["min","s1","pk","s2","max"], "range": [1,4.7,13.2,4.7,1]}, "legend": null},
    "detail": {"field": "g"},
    "order": {"field": "v", "type": "quantitative"}}},
  {"transform": [{"fold": ["min","s1","pk","s2","max"], "as": ["k","v"]}], "mark": {"type": "trail", "opacity": 1},
   "encoding": {
    "x": {"field": "g", "type": "ordinal", "axis": {"title": "Gamma"}},
    "y": {"field": "v", "type": "quantitative", "axis": {"title": null, "values": [2.4,2.6,2.8,3,3.2,3.4,3.6,3.8], "format": ".1f"}},
    "size": {"field": "k", "type": "ordinal", "scale": {"type": "ordinal", "domain": ["min","s1","pk","s2","max"], "range": [0,3.5,12,3.5,0]}, "legend": null},
    "color": {"field": "g", "type": "nominal", "scale": {"domain": [0,0.5,1,2,4,8,16,32,35], "range": ["#f77189","#d58c32","#a4a031","#50b131","#34ae91","#37abb4","#3ba3ec","#bb83f4","#f564d4"]}, "legend": null},
    "order": {"field": "v", "type": "quantitative"}}},
  {"mark": {"type": "rule", "color": "#4a4a4a", "strokeWidth": 0.8}, "encoding": {"x": {"field": "g", "type": "ordinal", "axis": {"title": "Gamma"}}, "y": {"field": "min", "type": "quantitative", "axis": {"title": null, "values": [2.4,2.6,2.8,3,3.2,3.4,3.6,3.8], "format": ".1f"}}, "y2": {"field": "max"}}},
  {"mark": {"type": "rule", "color": "#3a3a3a", "strokeWidth": 2.5}, "encoding": {"x": {"field": "g", "type": "ordinal", "axis": {"title": "Gamma"}}, "y": {"field": "q1", "type": "quantitative", "axis": {"title": null, "values": [2.4,2.6,2.8,3,3.2,3.4,3.6,3.8], "format": ".1f"}}, "y2": {"field": "q3"}}},
  {"mark": {"type": "circle", "color": "white", "size": 4, "opacity": 1}, "encoding": {"x": {"field": "g", "type": "ordinal", "axis": {"title": "Gamma"}}, "y": {"field": "pk", "type": "quantitative", "axis": {"title": null, "values": [2.4,2.6,2.8,3,3.2,3.4,3.6,3.8], "format": ".1f"}}}},
  {"transform": [{"filter": "datum.g == 0"}], "mark": {"type": "rule", "color": "#4c72b0", "strokeDash": [4,2], "strokeWidth": 1.2}, "encoding": {"y": {"field": "mean", "type": "quantitative", "axis": {"title": null, "values": [2.4,2.6,2.8,3,3.2,3.4,3.6,3.8], "format": ".1f"}}}},
  {"mark": {"type": "line", "color": "#ff0000", "strokeWidth": 1.8}, "encoding": {"x": {"field": "g", "type": "ordinal", "axis": {"title": "Gamma"}}, "y": {"field": "mean", "type": "quantitative", "axis": {"title": null, "values": [2.4,2.6,2.8,3,3.2,3.4,3.6,3.8], "format": ".1f"}}}},
  {"mark": {"type": "square", "size": 16, "fill": "white", "stroke": "#ff0000", "strokeWidth": 1.2, "opacity": 1}, "encoding": {"x": {"field": "g", "type": "ordinal", "axis": {"title": "Gamma"}}, "y": {"field": "mean", "type": "quantitative", "axis": {"title": null, "values": [2.4,2.6,2.8,3,3.2,3.4,3.6,3.8], "format": ".1f"}}}}
 ]}
],
"config": {
 "view": {"stroke": "#cccccc", "strokeWidth": 1},
 "title": {"font": "DejaVu Sans", "fontSize": 7, "fontWeight": "normal", "color": "#262626", "offset": 2},
 "axis": {"labelFont": "DejaVu Sans", "labelFontSize": 7, "labelColor": "#333333", "ticks": false, "domain": false, "gridColor": "#dedede", "gridWidth": 1, "labelOverlap": false, "titleFont": "Liberation Serif", "titleFontSize": 10.5, "titleFontWeight": 400, "titleColor": "#000000"},
 "axisX": {"grid": false, "labelAngle": 0, "labelPadding": 1, "titlePadding": 1},
 "axisY": {"grid": true, "labelPadding": 1.5}
}
}
